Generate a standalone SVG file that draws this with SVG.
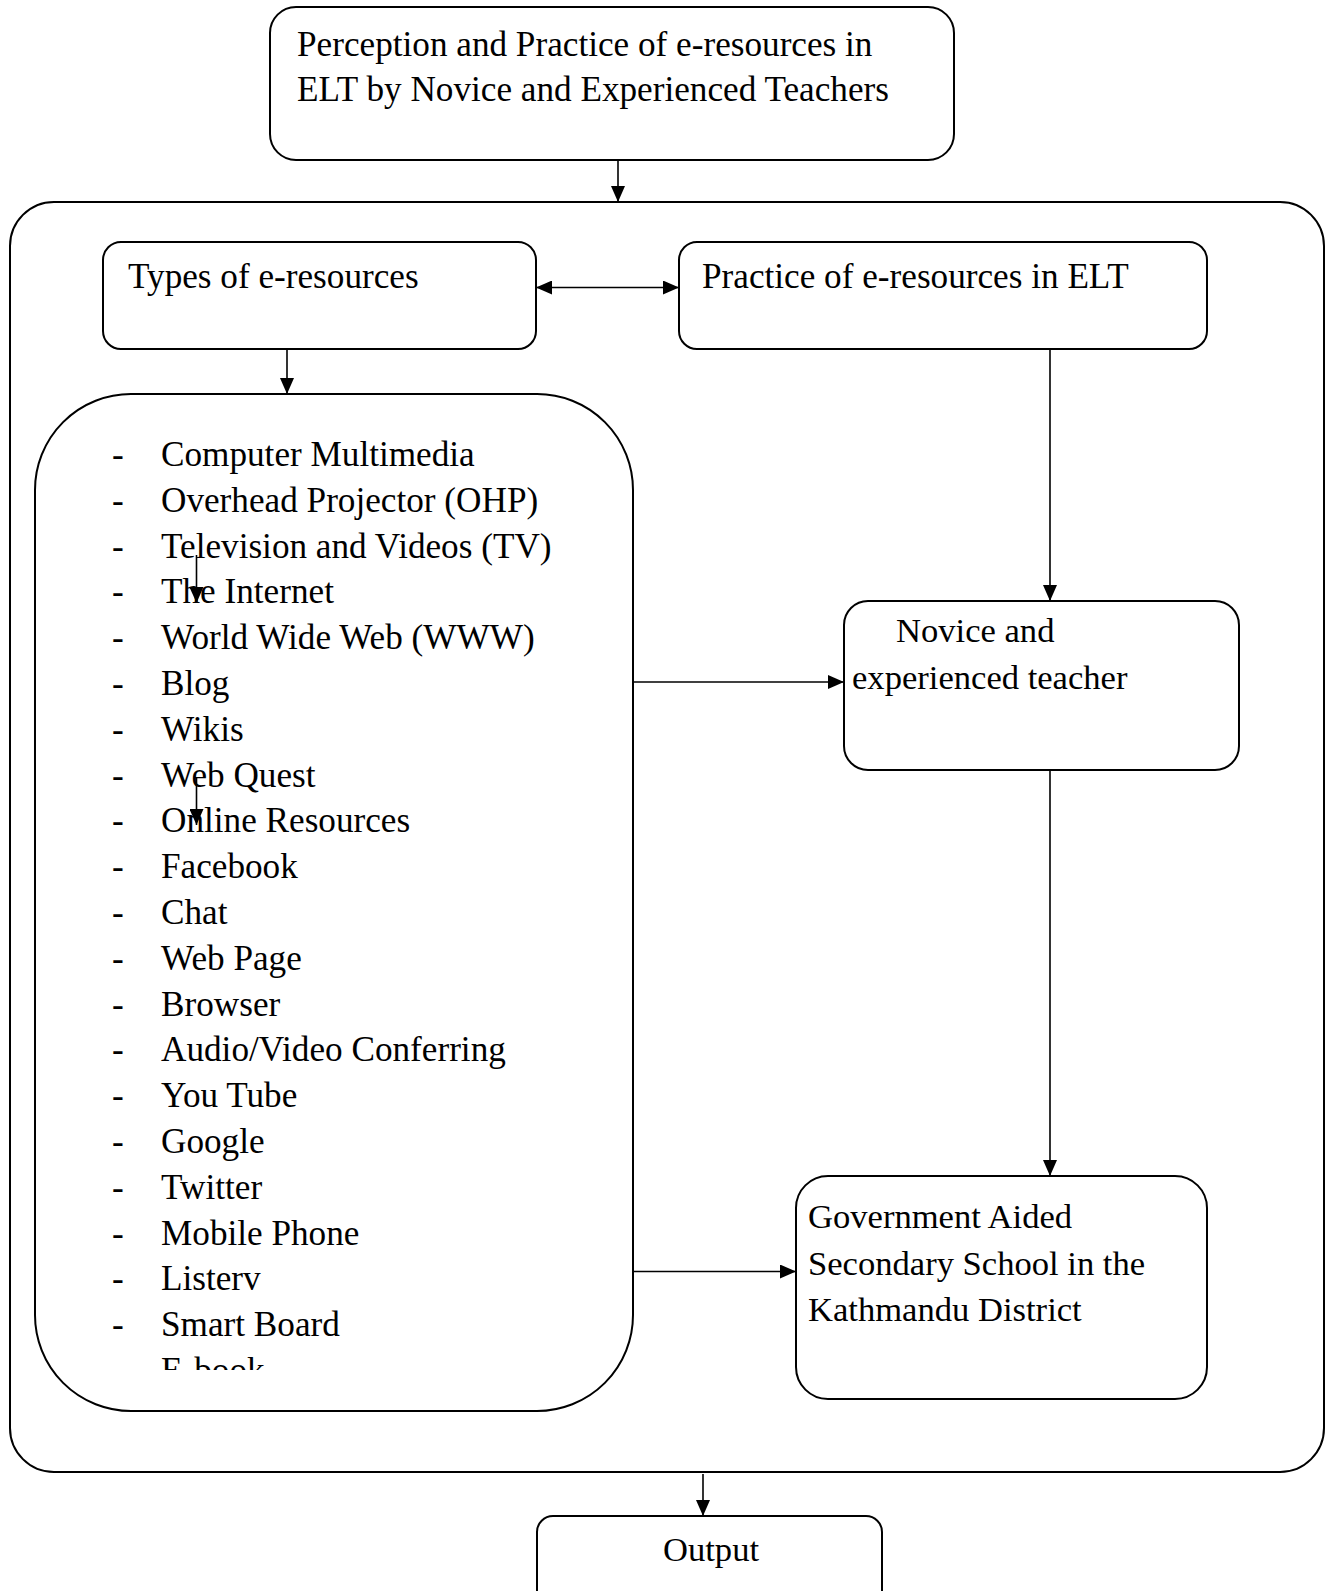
<svg xmlns="http://www.w3.org/2000/svg" width="1329" height="1591" viewBox="0 0 1329 1591">
<style>
  .box { fill: none; stroke: #000; stroke-width: 2; }
  .con { fill: none; stroke: #000; stroke-width: 1.6; }
  text { font-family: "Liberation Serif", "Times New Roman", serif; font-size: 35.2px; fill: #000; }
  .sm { font-size: 34.6px; }
</style>
<defs>
  <marker id="ah" markerUnits="userSpaceOnUse" markerWidth="16" markerHeight="14" refX="16" refY="7" orient="auto-start-reverse" viewBox="0 0 16 14">
    <path d="M0,0 L16,7 L0,14 z" fill="#000"/>
  </marker>
  <clipPath id="listclip"><rect x="30" y="394" width="610" height="976"/></clipPath>
</defs>
<rect width="1329" height="1591" fill="#fff"/>

<g id="container">
  <rect class="box" x="10" y="202" width="1314" height="1270" rx="44" ry="44"/>
</g>

<g id="node-title">
  <rect class="box" x="270" y="7" width="684" height="153" rx="26" ry="26"/>
  <text x="297" y="56">Perception and Practice of e-resources in</text>
  <text x="297" y="101">ELT by Novice and Experienced Teachers</text>
</g>

<g id="node-types">
  <rect class="box" x="103" y="242" width="433" height="107" rx="18" ry="18"/>
  <text x="128" y="288">Types of e-resources</text>
</g>

<g id="node-practice">
  <rect class="box" x="679" y="242" width="528" height="107" rx="18" ry="18"/>
  <text x="702" y="288">Practice of e-resources in ELT</text>
</g>

<g id="node-list">
  <rect class="box" x="35" y="394" width="598" height="1017" rx="96" ry="96"/>
  <g clip-path="url(#listclip)">
    <text x="112" y="466">-</text><text x="161" y="466">Computer Multimedia</text>
    <text x="112" y="511.8">-</text><text x="161" y="511.8">Overhead Projector (OHP)</text>
    <text x="112" y="557.6">-</text><text x="161" y="557.6">Television and Videos (TV)</text>
    <text x="112" y="603.4">-</text><text x="161" y="603.4">The Internet</text>
    <text x="112" y="649.2">-</text><text x="161" y="649.2">World Wide Web (WWW)</text>
    <text x="112" y="695">-</text><text x="161" y="695">Blog</text>
    <text x="112" y="740.8">-</text><text x="161" y="740.8">Wikis</text>
    <text x="112" y="786.6">-</text><text x="161" y="786.6">Web Quest</text>
    <text x="112" y="832.4">-</text><text x="161" y="832.4">Online Resources</text>
    <text x="112" y="878.2">-</text><text x="161" y="878.2">Facebook</text>
    <text x="112" y="924">-</text><text x="161" y="924">Chat</text>
    <text x="112" y="969.8">-</text><text x="161" y="969.8">Web Page</text>
    <text x="112" y="1015.6">-</text><text x="161" y="1015.6">Browser</text>
    <text x="112" y="1061.4">-</text><text x="161" y="1061.4">Audio/Video Conferring</text>
    <text x="112" y="1107.2">-</text><text x="161" y="1107.2">You Tube</text>
    <text x="112" y="1153">-</text><text x="161" y="1153">Google</text>
    <text x="112" y="1198.8">-</text><text x="161" y="1198.8">Twitter</text>
    <text x="112" y="1244.6">-</text><text x="161" y="1244.6">Mobile Phone</text>
    <text x="112" y="1290.4">-</text><text x="161" y="1290.4">Listerv</text>
    <text x="112" y="1336.2">-</text><text x="161" y="1336.2">Smart Board</text>
    <text x="161" y="1382">E-book</text>
  </g>
</g>

<g id="node-novice">
  <rect class="box" x="844" y="601" width="395" height="169" rx="24" ry="24"/>
  <text class="sm" x="896" y="642">Novice and</text>
  <text class="sm" x="852" y="689">experienced teacher</text>
</g>

<g id="node-school">
  <rect class="box" x="796" y="1176" width="411" height="223" rx="32" ry="32"/>
  <text class="sm" x="808" y="1228">Government Aided</text>
  <text class="sm" x="808" y="1274.5">Secondary School in the</text>
  <text class="sm" x="808" y="1321">Kathmandu District</text>
</g>

<g id="node-output">
  <rect class="box" x="537" y="1516" width="345" height="100" rx="16" ry="16"/>
  <text class="sm" x="663" y="1561">Output</text>
</g>

<g id="connectors">
  <line class="con" x1="618" y1="160" x2="618" y2="202" marker-end="url(#ah)"/>
  <line class="con" x1="536" y1="287.5" x2="679" y2="287.5" marker-start="url(#ah)" marker-end="url(#ah)"/>
  <line class="con" x1="287" y1="349" x2="287" y2="394" marker-end="url(#ah)"/>
  <line class="con" x1="1050" y1="349" x2="1050" y2="601" marker-end="url(#ah)"/>
  <line class="con" x1="633" y1="682" x2="844" y2="682" marker-end="url(#ah)"/>
  <line class="con" x1="1050" y1="770" x2="1050" y2="1176" marker-end="url(#ah)"/>
  <line class="con" x1="633" y1="1271.5" x2="796" y2="1271.5" marker-end="url(#ah)"/>
  <line class="con" x1="703" y1="1474" x2="703" y2="1516" marker-end="url(#ah)"/>
  <line class="con" x1="196.5" y1="555" x2="196.5" y2="603" marker-end="url(#ah)"/>
  <line class="con" x1="196.5" y1="778" x2="196.5" y2="825" marker-end="url(#ah)"/>
</g>
</svg>
